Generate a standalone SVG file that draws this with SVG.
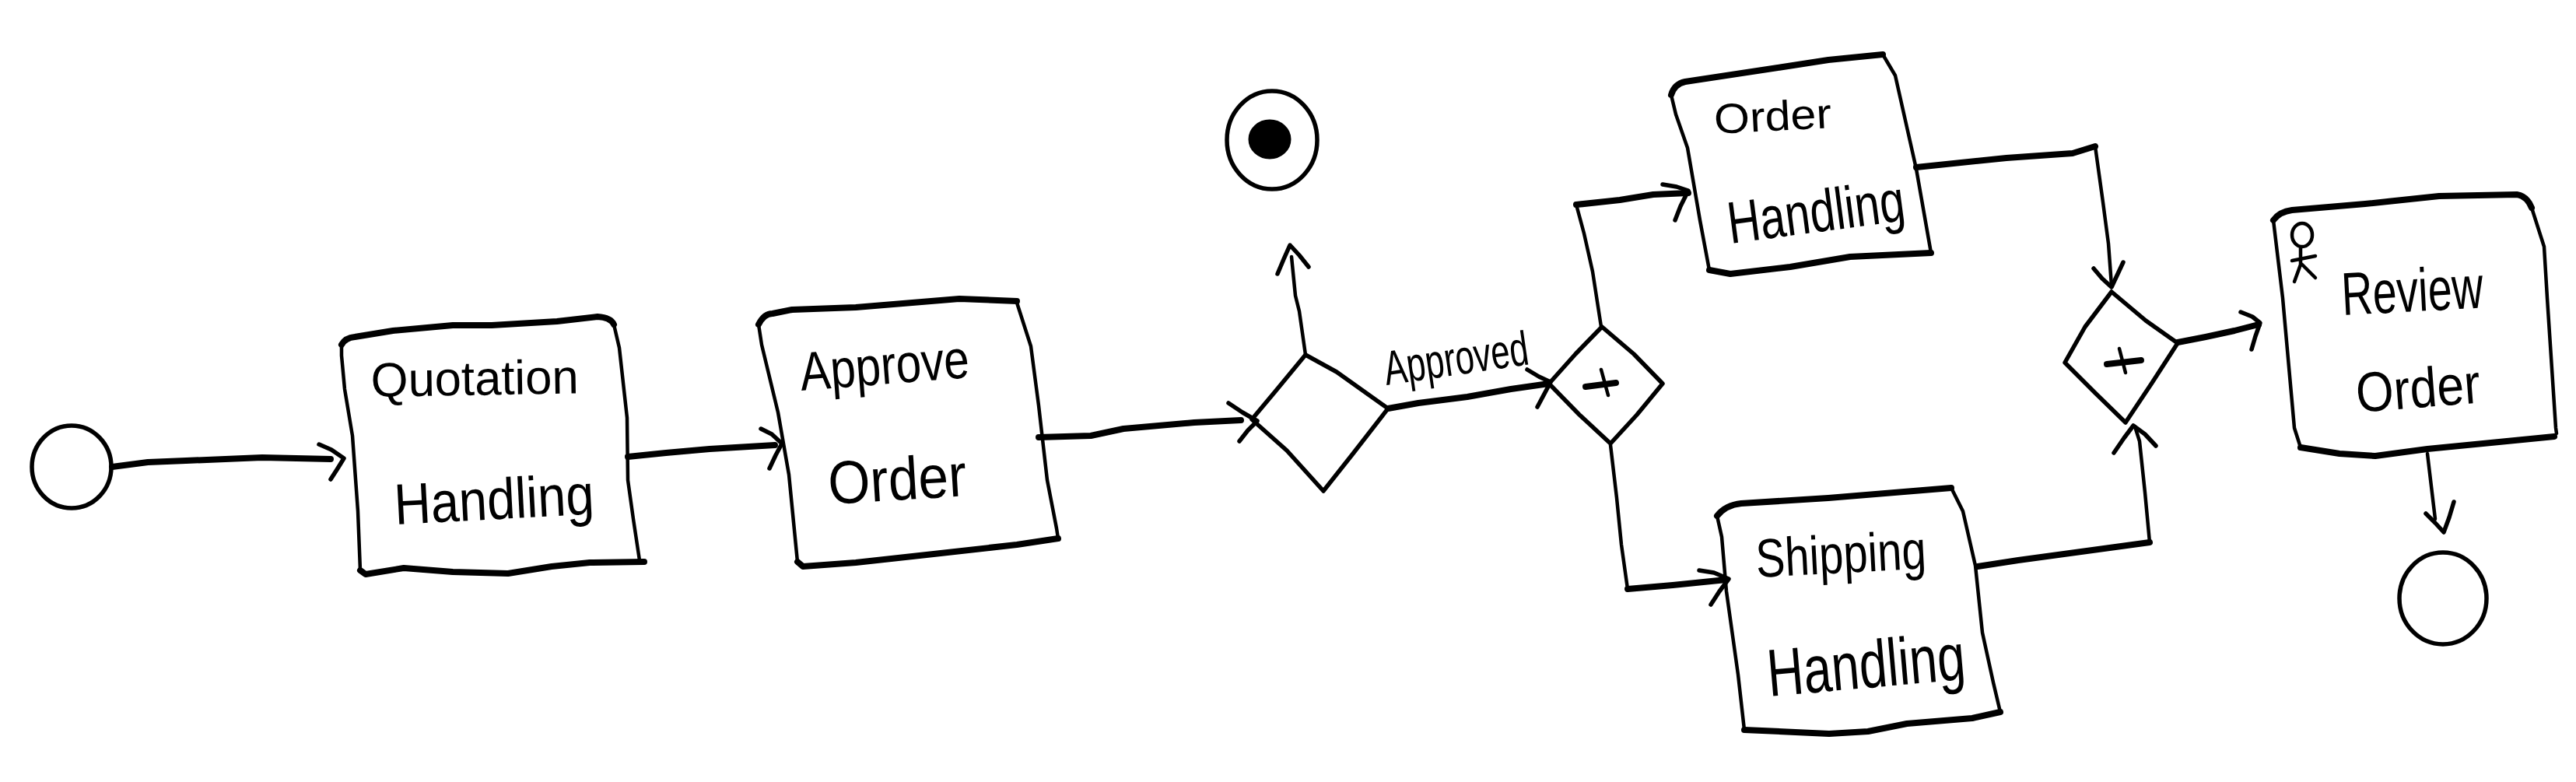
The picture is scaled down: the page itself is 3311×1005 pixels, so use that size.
<svg xmlns="http://www.w3.org/2000/svg" width="3311" height="1005" viewBox="0 0 3311 1005">
<style>
path,ellipse{fill:none;stroke:#000;stroke-linecap:round;stroke-linejoin:round}
.k{stroke-width:8}
.n{stroke-width:4.5}
.m{stroke-width:5.5}
.b{fill:#000;stroke:#000;stroke-width:3}
text{font-family:"Liberation Sans",Arial,sans-serif;fill:#000;stroke:none}
</style>
<rect width="3311" height="1005" fill="#fff"/>
<g id="connectors">
<path class="k" d="M144 600L190 594L239 592L337 588L425 590"/><path class="m" d="M410 571L426 578L442 589L434 602L425 616"/>
<path class="k" d="M807 587L856 582L912 577L996 572"/><path class="m" d="M978 551L992 558L1005 570L997 585L989 602"/>
<path class="k" d="M1335 562L1402 560L1444 551L1535 543L1595 540"/><path class="m" d="M1579 518L1597 530L1616 541L1604 553L1593 567"/>
<path class="n" d="M1678 456L1670 400L1665 380L1660 330"/><path class="m" d="M1642 352L1650 333L1658 315L1670 328L1682 343"/>
<path class="k" d="M1784 525L1823 518L1886 510L1942 500L1991 493"/><path class="m" d="M1963 475L1978 484L1993 491L1984 508L1976 523"/>
<path class="n" d="M2058 420L2047 349L2036 300L2026 263"/><path class="k" d="M2026 263L2082 257L2125 250L2170 248"/><path class="m" d="M2137 237L2155 240L2170 245L2160 265L2153 283"/>
<path class="n" d="M2070 572L2078 640L2084 700L2092 757"/><path class="k" d="M2092 757L2150 752L2219 745"/><path class="m" d="M2184 733L2203 736L2222 744L2210 760L2199 777"/>
<path class="k" d="M2463 215L2579 203L2664 197L2693 188"/><path class="n" d="M2693 188L2703 260L2710 313L2714 367"/><path class="m" d="M2691 345L2702 358L2714 369L2722 352L2729 337"/>
<path class="k" d="M2542 728L2594 720L2719 703L2763 697"/><path class="n" d="M2763 697L2757 633L2750 567L2744 548"/><path class="m" d="M2717 582L2730 563L2742 547L2757 558L2771 573"/>
<path class="k" d="M2799 440L2835 433L2872 425L2903 417"/><path class="m" d="M2880 401L2895 407L2905 415L2899 432L2894 449"/>
<path class="n" d="M3120 583L3125 625L3130 667"/><path class="m" d="M3118 660L3130 672L3141 684L3148 665L3154 645"/>
</g>
<g id="start"><ellipse class="m" cx="92" cy="600" rx="51" ry="53"/></g>
<g id="quotation-handling">
<path class="k" d="M439 443Q444 434 456 433L505 425L582 418L632 418L716 413L768 407Q785 408 789 417"/>
<path class="k" d="M828 722L758 723L709 728L653 737L582 735L519 730L470 738L463 733"/>
<path class="n" d="M789 417L796 447L806 537L807 617L814 667L822 720L828 722"/><path class="n" d="M439 443L439 457L443 500L453 560L460 657L463 733"/>
<text x="477" y="510" font-size="62" textLength="267" lengthAdjust="spacingAndGlyphs" transform="rotate(-1 477 510)">Quotation</text>
<text x="508" y="674" font-size="74" textLength="257" lengthAdjust="spacingAndGlyphs" transform="rotate(-3 508 674)">Handling</text>
</g>
<g id="approve-order">
<path class="k" d="M975 417Q982 403 993 403L1018 398L1100 395L1233 384L1307 387"/>
<path class="k" d="M1025 722L1032 728L1100 723L1200 712L1307 700L1360 692"/>
<path class="n" d="M1307 389L1325 445L1335 521L1346 617L1358 679L1360 692"/><path class="n" d="M975 417L979 443L1000 530L1014 610L1025 722"/>
<text x="1030" y="502" font-size="70" textLength="218" lengthAdjust="spacingAndGlyphs" transform="rotate(-4.5 1030 502)">Approve</text>
<text x="1066" y="648" font-size="78" textLength="178" lengthAdjust="spacingAndGlyphs" transform="rotate(-3.5 1066 648)">Order</text>
</g>
<g id="gateway-1">
<path class="m" d="M1678 456L1718 478L1784 525L1739 583L1701 631L1654 579L1609 539L1640 502Z"/>
</g>
<g id="end-terminate">
<ellipse class="m" cx="1635" cy="180" rx="58" ry="63"/>
<ellipse class="b" cx="1632" cy="179" rx="26" ry="24"/>
</g>
<text id="label-approved" x="1782" y="495" font-size="62" textLength="187" lengthAdjust="spacingAndGlyphs" transform="rotate(-8.3 1782 495)">Approved</text>
<g id="gateway-2">
<path class="m" d="M2059 420L2100 455L2137 493L2104 533L2070 570L2030 533L1991 493L2025 455Z"/>
<path class="k" d="M2038 497L2077 492"/><path class="n" d="M2058 475L2067 508"/>
</g>
<g id="order-handling">
<path class="k" d="M2148 122Q2152 108 2166 105L2285 87L2350 77L2420 70"/>
<path class="k" d="M2482 325L2378 330L2301 343L2224 352L2197 347"/>
<path class="n" d="M2420 70L2436 97L2463 217L2482 325"/><path class="n" d="M2148 122L2154 147L2169 190L2185 283L2197 347"/>
<text x="2204" y="172" font-size="54" textLength="151" lengthAdjust="spacingAndGlyphs" transform="rotate(-3 2204 172)">Order</text>
<text x="2224" y="313" font-size="76" textLength="229" lengthAdjust="spacingAndGlyphs" transform="rotate(-7.5 2224 313)">Handling</text>
</g>
<g id="shipping-handling">
<path class="k" d="M2207 663Q2218 649 2238 647L2350 640L2508 627"/>
<path class="k" d="M2571 915L2535 923L2451 930L2401 940L2351 943L2242 938"/>
<path class="n" d="M2508 627L2523 657L2539 727L2548 813L2562 877L2571 915"/><path class="n" d="M2207 663L2213 690L2219 760L2234 867L2242 938"/>
<text x="2258" y="742" font-size="70" textLength="219" lengthAdjust="spacingAndGlyphs" transform="rotate(-3 2258 742)">Shipping</text>
<text x="2274" y="895" font-size="86" textLength="255" lengthAdjust="spacingAndGlyphs" transform="rotate(-5 2274 895)">Handling</text>
</g>
<g id="gateway-3">
<path class="m" d="M2714 375L2758 412L2799 441L2766 492L2732 543L2693 505L2654 466L2680 420Z"/>
<path class="k" d="M2708 468L2752 463"/><path class="n" d="M2724 448L2732 479"/>
</g>
<g id="review-order">
<path class="k" d="M2922 283Q2930 272 2946 270L3040 262L3135 252L3235 250Q3248 252 3254 267"/>
<path class="k" d="M2957 575L3007 583L3053 586L3120 577L3212 568L3283 561"/>
<path class="n" d="M3254 267L3270 317L3274 383L3285 550L3286 557"/><path class="n" d="M2922 283L2934 383L2949 550L2957 575"/>
<ellipse class="n" cx="2959" cy="302" rx="13" ry="15"/>
<path class="n" d="M2957 317L2957 340L2949 362M2959 340L2976 357M2946 335L2976 329"/>
<text x="3011" y="405" font-size="78" textLength="182" lengthAdjust="spacingAndGlyphs" transform="rotate(-3 3011 405)">Review</text>
<text x="3030" y="530" font-size="72" textLength="160" lengthAdjust="spacingAndGlyphs" transform="rotate(-4.5 3030 530)">Order</text>
</g>
<g id="end"><ellipse class="m" cx="3140" cy="769" rx="56" ry="59"/></g>
</svg>
